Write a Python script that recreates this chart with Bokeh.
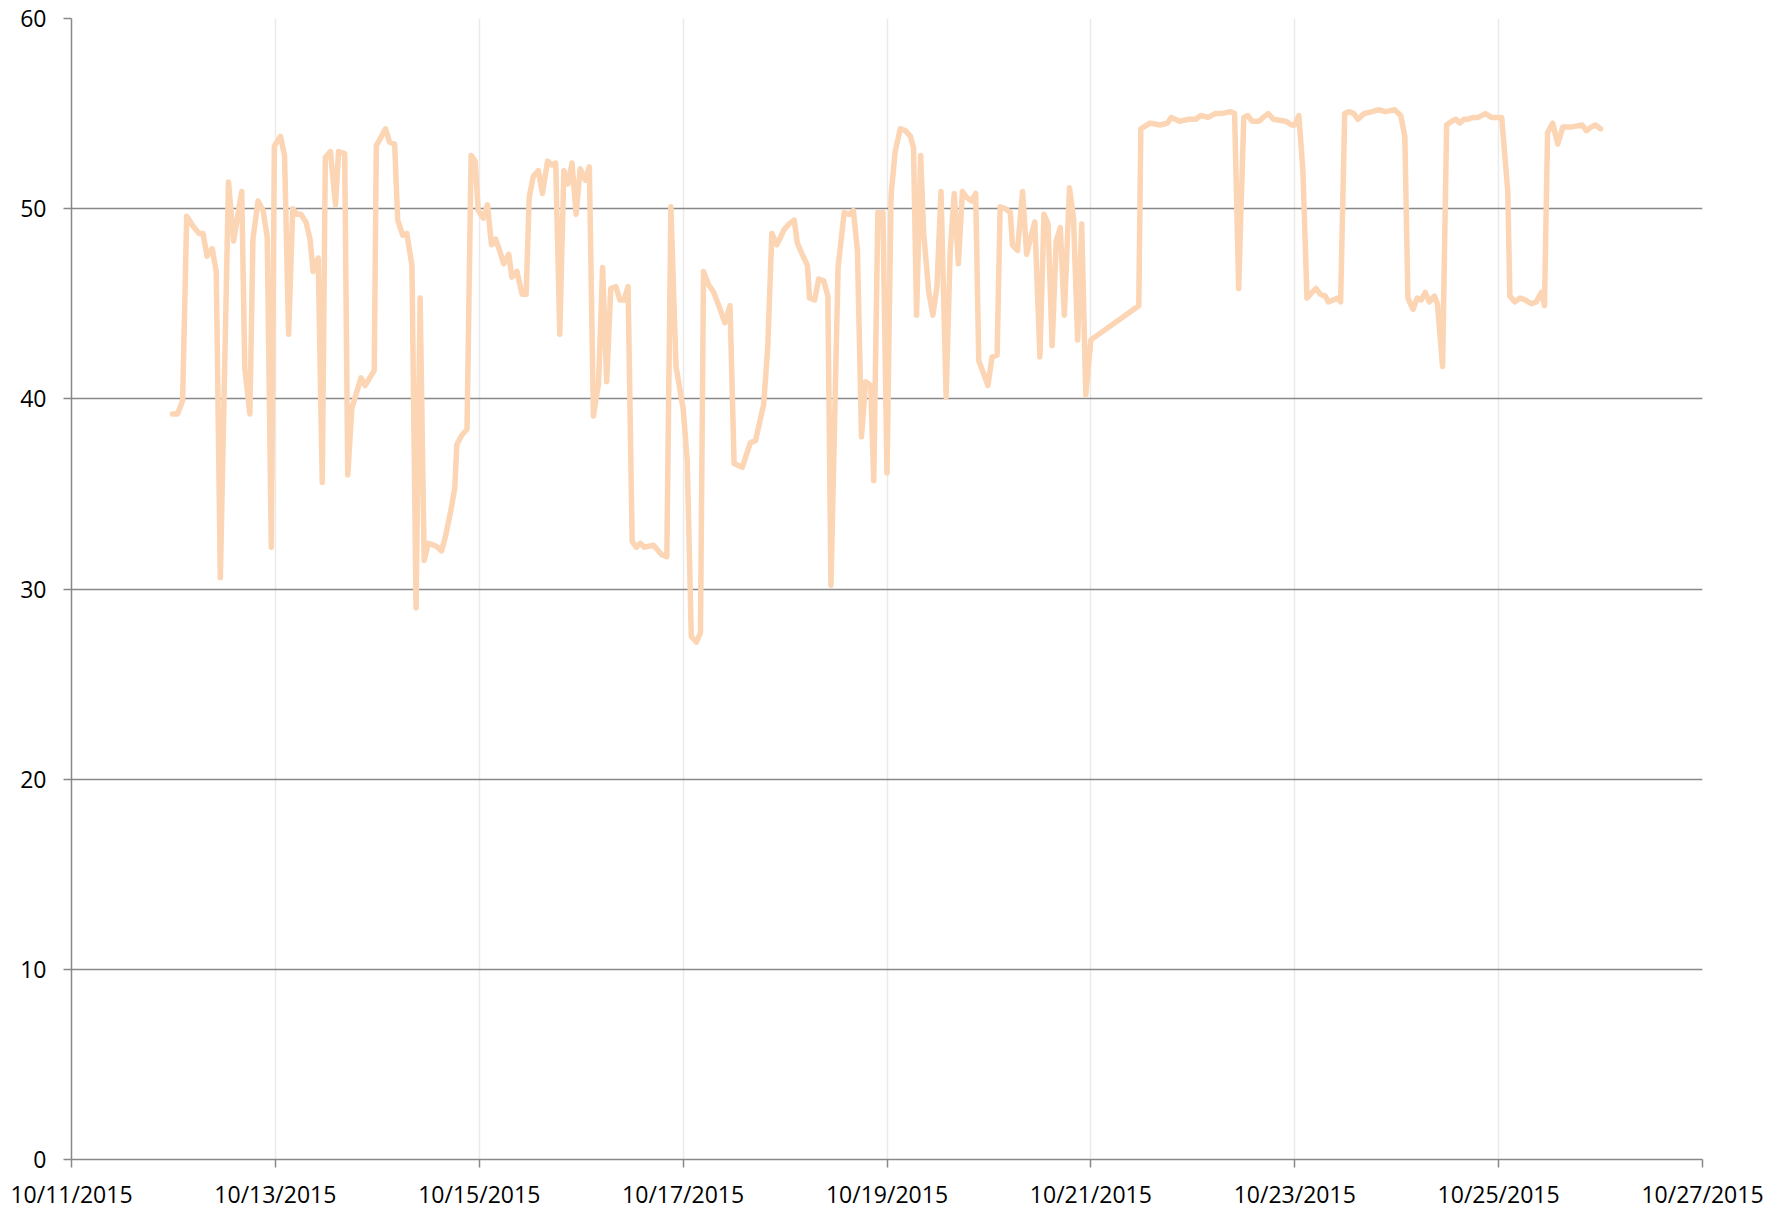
import pandas as pd
from bokeh.plotting import figure
from bokeh.models import Range1d, FixedTicker, DatetimeTickFormatter, ColumnDataSource
from bokeh.embed import file_html
from bokeh.resources import INLINE

# ---- data ----
start_date = "2015-10-11"
days_since_start = [
    0.99, 1.04, 1.09, 1.13, 1.19, 1.25, 1.29, 1.33, 1.38, 1.42, 1.46, 1.54, 1.59, 1.67, 1.70,
    1.75, 1.78, 1.83, 1.88, 1.92, 1.96, 1.99, 2.05, 2.09, 2.13, 2.17, 2.21, 2.25, 2.30, 2.34,
    2.37, 2.42, 2.46, 2.49, 2.54, 2.59, 2.62, 2.68, 2.71, 2.75, 2.84, 2.88, 2.97, 2.99,
    3.02, 3.08, 3.12, 3.17, 3.20, 3.25, 3.29, 3.34, 3.38, 3.42, 3.46, 3.50, 3.56, 3.59, 3.63,
    3.67, 3.72, 3.76, 3.78, 3.83, 3.88, 3.92, 3.96, 3.99, 4.04, 4.08, 4.12, 4.16, 4.20, 4.24,
    4.29, 4.32, 4.37, 4.42, 4.46, 4.49, 4.53, 4.58, 4.62, 4.67, 4.71, 4.75, 4.79, 4.83, 4.87,
    4.91, 4.95, 4.99, 5.04, 5.08,
    5.12, 5.17, 5.21, 5.25, 5.29, 5.34, 5.38, 5.42, 5.46, 5.50, 5.54, 5.58, 5.62, 5.71, 5.79,
    5.84, 5.88, 5.93, 6.00, 6.04, 6.08, 6.13, 6.17, 6.20, 6.25, 6.30, 6.35, 6.41, 6.46, 6.50,
    6.58, 6.66, 6.71, 6.79, 6.83, 6.87, 6.92, 6.99, 7.04, 7.09, 7.12,
    7.16, 7.22, 7.24, 7.29, 7.33, 7.38, 7.42, 7.45, 7.52, 7.58, 7.63, 7.67, 7.71, 7.75, 7.79,
    7.84, 7.87, 7.91, 7.96, 8.00, 8.04, 8.08, 8.13, 8.18, 8.23, 8.26, 8.29, 8.33, 8.36, 8.41,
    8.45, 8.49, 8.53, 8.58, 8.62, 8.66, 8.70, 8.74, 8.78, 8.83, 8.87, 8.90, 8.95, 8.99, 9.03,
    9.08, 9.11, 9.16,
    9.21, 9.23, 9.28, 9.33, 9.37, 9.41, 9.45, 9.50, 9.54, 9.58, 9.62, 9.66, 9.70, 9.74, 9.79,
    9.83, 9.87, 9.91, 9.95, 10.00, 10.47, 10.49, 10.58, 10.68, 10.75, 10.79, 10.87, 10.96, 11.03,
    11.08, 11.15, 11.22,
    11.28, 11.37, 11.41, 11.45, 11.50, 11.54, 11.58, 11.65, 11.69, 11.74, 11.79, 11.91, 11.97,
    12.00, 12.04, 12.08, 12.12, 12.17, 12.21, 12.25, 12.30, 12.33, 12.38, 12.42, 12.45, 12.49,
    12.53, 12.58, 12.62, 12.68, 12.76, 12.82, 12.89, 12.98, 13.04, 13.08, 13.11, 13.16, 13.20,
    13.24, 13.28,
    13.32, 13.37, 13.40, 13.45, 13.49, 13.54, 13.58, 13.62, 13.66, 13.70, 13.75, 13.80, 13.87,
    13.93, 13.98, 14.03, 14.09, 14.11, 14.16, 14.21, 14.26, 14.32, 14.37, 14.42, 14.45, 14.48,
    14.53, 14.58, 14.63, 14.72, 14.82, 14.86, 14.91, 14.95, 15.00,
]
values = [
    39.2, 39.2, 39.9, 49.6, 49.1, 48.7, 48.7, 47.5, 47.9, 46.7, 30.6, 51.4, 48.3, 50.9, 41.6,
    39.2, 48.4, 50.4, 49.9, 48.5, 32.2, 53.3, 53.8, 52.8, 43.4, 50.0, 49.7, 49.7, 49.3, 48.4,
    46.7, 47.4, 35.6, 52.7, 53.0, 50.2, 53.0, 52.9, 36.0, 39.5, 41.1, 40.7, 41.5, 53.3,
    53.6, 54.2, 53.5, 53.4, 49.4, 48.6, 48.7, 47.0, 29.0, 45.3, 31.5, 32.4, 32.3, 32.2, 32.0,
    32.8, 34.1, 35.3, 37.6, 38.1, 38.4, 52.8, 52.5, 49.9, 49.5, 50.2, 48.1, 48.4, 47.8, 47.1,
    47.6, 46.4, 46.7, 45.5, 45.5, 50.6, 51.7, 52.0, 50.8, 52.5, 52.3, 52.4, 43.4, 52.0, 51.3,
    52.4, 49.7, 52.1, 51.5, 52.2,
    39.1, 40.8, 46.9, 40.9, 45.8, 45.9, 45.2, 45.2, 45.9, 32.5, 32.2, 32.4, 32.2, 32.3, 31.8,
    31.7, 50.1, 41.7, 39.5, 36.8, 27.5, 27.2, 27.7, 46.7, 46.0, 45.6, 44.9, 44.0, 44.9, 36.6,
    36.4, 37.7, 37.8, 39.7, 42.7, 48.7, 48.1, 48.9, 49.2, 49.4, 48.2,
    47.7, 47.0, 45.3, 45.2, 46.3, 46.2, 45.4, 30.2, 46.9, 49.8, 49.7, 49.9, 47.8, 38.0, 40.9,
    40.7, 35.7, 49.8, 49.8, 36.1, 50.7, 53.0, 54.2, 54.1, 53.8, 53.2, 44.4, 52.8, 48.7, 45.6,
    44.4, 45.9, 50.9, 40.1, 47.8, 50.8, 47.1, 50.9, 50.6, 50.4, 50.8, 42.0, 41.3, 40.7, 42.2,
    42.3, 50.1, 50.0,
    49.8, 48.1, 47.8, 50.9, 47.6, 48.5, 49.3, 42.2, 49.7, 49.2, 42.8, 48.3, 49.0, 44.4, 51.1,
    49.5, 43.1, 49.2, 40.2, 43.1, 44.9, 54.2, 54.5, 54.4, 54.5, 54.8, 54.6, 54.7, 54.7,
    54.9, 54.8, 55.0,
    55.0, 55.1, 55.0, 45.8, 54.8, 54.9, 54.6, 54.6, 54.8, 55.0, 54.7, 54.6, 54.4,
    54.4, 54.9, 52.0, 45.3, 45.6, 45.8, 45.5, 45.4, 45.1, 45.2, 45.3, 45.1, 55.0,
    55.1, 55.0, 54.7, 55.0, 55.1, 55.2, 55.1, 55.2, 54.9, 53.8, 45.3, 44.7, 45.3,
    45.2, 45.6,
    45.1, 45.4, 45.0, 41.7, 54.4, 54.6, 54.7, 54.5, 54.7, 54.7, 54.8, 54.8, 55.0,
    54.8, 54.8, 54.8, 50.9, 45.4, 45.1, 45.3, 45.2, 45.0, 45.1, 45.6, 44.9, 54.0,
    54.5, 53.4, 54.3, 54.3, 54.4, 54.1, 54.3, 54.4, 54.2,
]
x_tick_dates = ["2015-10-11", "2015-10-13", "2015-10-15", "2015-10-17", "2015-10-19",
                "2015-10-21", "2015-10-23", "2015-10-25", "2015-10-27"]
y_ticks = [0, 10, 20, 30, 40, 50, 60]

# ---- build ----
t0 = pd.Timestamp(start_date)
times = [t0 + pd.Timedelta(days=d) for d in days_since_start]
source = ColumnDataSource(dict(t=times, v=values))

x_start = pd.Timestamp(x_tick_dates[0])
x_end = pd.Timestamp(x_tick_dates[-1])

p = figure(
    frame_width=1631, frame_height=1141,
    x_axis_type="datetime",
    x_range=Range1d(x_start, x_end),
    y_range=Range1d(0, 60),
    output_backend="svg", toolbar_location=None,
    min_border_left=71, min_border_top=18, min_border_right=75, min_border_bottom=0,
)
p.outline_line_color = None
p.background_fill_color = "white"
p.border_fill_color = "white"

p.line("t", "v", source=source, line_color="#FCD5B4", line_width=5.5,
       line_join="round", line_cap="round")

p.xaxis.ticker = FixedTicker(ticks=[pd.Timestamp(d).value / 1e6 for d in x_tick_dates])
fmt = "%m/%d/%Y"
p.xaxis.formatter = DatetimeTickFormatter(days=fmt, months=fmt, hours=fmt, years=fmt,
                                          minutes=fmt, seconds=fmt, milliseconds=fmt,
                                          microseconds=fmt, minsec=fmt, hourmin=fmt)
p.yaxis.ticker = FixedTicker(ticks=y_ticks)

for ax in (p.xaxis, p.yaxis):
    ax.axis_line_color = "#888888"
    ax.axis_line_width = 1.5
    ax.major_tick_line_color = "#888888"
    ax.major_tick_line_width = 1.5
    ax.major_tick_out = 8
    ax.major_tick_in = 0
    ax.minor_tick_line_color = None
    ax.major_label_text_font = "Open Sans"
    ax.major_label_text_font_size = "23px"
    ax.major_label_text_color = "#000000"
p.xaxis.major_label_standoff = 10
p.yaxis.major_label_standoff = 17

p.xgrid.grid_line_color = "#eaeaea"
p.xgrid.grid_line_width = 1.5
p.ygrid.grid_line_color = "#888888"
p.ygrid.grid_line_width = 1.5

open("out.html", "w").write(file_html(p, INLINE))
